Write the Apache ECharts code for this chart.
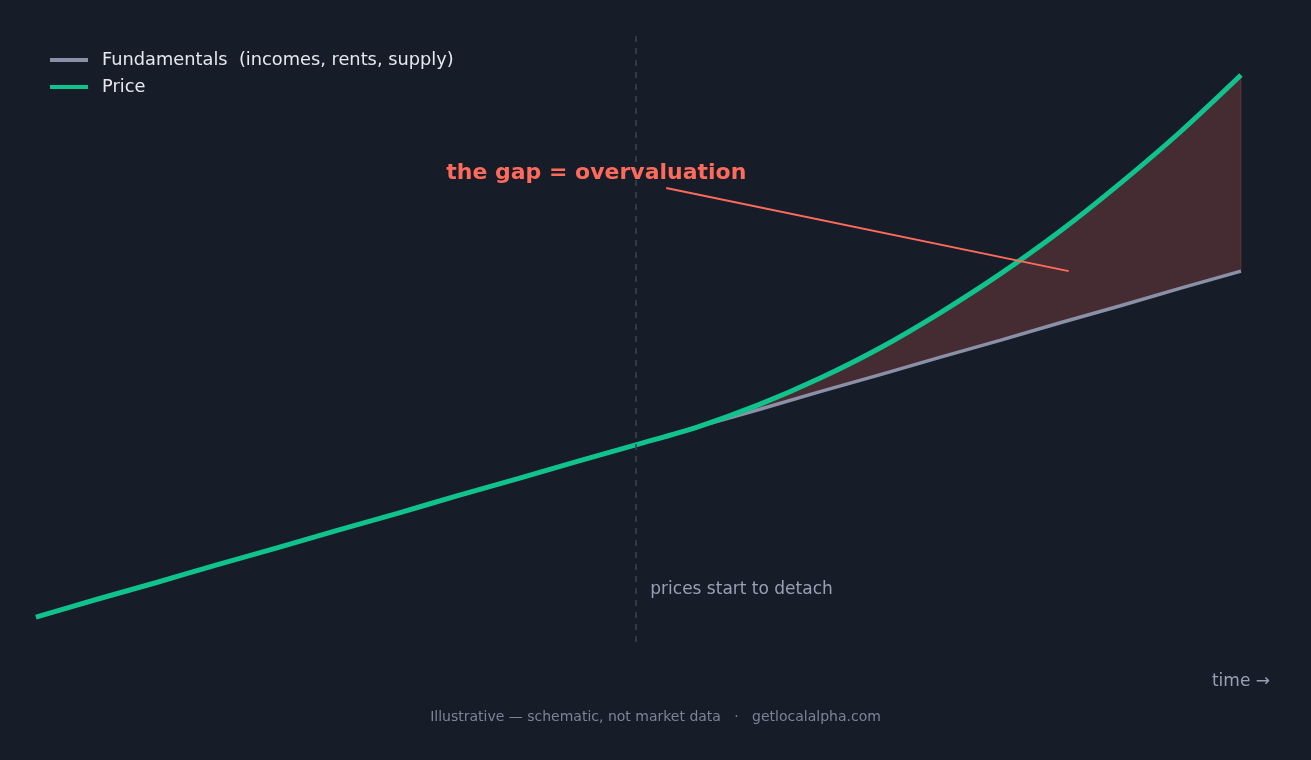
<!DOCTYPE html>
<html>
<head>
<meta charset="utf-8">
<script src="https://cdn.jsdelivr.net/npm/echarts@6/dist/echarts.min.js"></script>
<style>
  html, body { margin: 0; padding: 0; background: #171c29; }
  #chart { width: 1311px; height: 760px; }
</style>
</head>
<body>
<div id="chart"></div>
<script>
// ---- data (schematic) ----
const times = [0, 5, 10, 15, 20, 25, 30, 35, 40, 45, 50, 55, 60, 65, 70, 75, 80, 85, 90, 95, 100];
const fundamentals = [4.1, 7.0, 9.8, 12.7, 15.5, 18.4, 21.2, 24.1, 26.9, 29.8, 32.6, 35.5, 38.3, 41.2, 44.0, 46.9, 49.7, 52.6, 55.4, 58.3, 61.1];
const price = [4.1, 7.0, 9.8, 12.7, 15.5, 18.4, 21.2, 24.1, 26.9, 29.8, 32.6, 35.5, 39.1, 43.4, 48.4, 54.2, 60.6, 67.7, 75.6, 84.1, 93.4];
const detachTime = 49.8;
const gapLabelAt = [46.5, 77.2];
const gapArrowFrom = [52.3, 74.8];
const gapArrowTo = [85.7, 61.1];
const detachLabelAt = [49.9, 8.7];

const seriesNames = ['Fundamentals  (incomes, rents, supply)', 'Price'];
const gapText = 'the gap = overvaluation';
const detachText = 'prices start to detach';
const axisText = 'time →';
const footerText = 'Illustrative — schematic, not market data   ·   getlocalalpha.com';

// ---- build ----
const BG = '#171c29';
const pair = (arr) => times.map((t, i) => [t, arr[i]]);
const last = times.length - 1;
const FONT = 'DejaVu Sans';
const chart = echarts.init(document.getElementById('chart'), null, { renderer: 'canvas' });

chart.setOption({
  backgroundColor: BG,
  animation: false,
  textStyle: { fontFamily: FONT },
  grid: { left: 36, right: 70, top: 35, bottom: 118 },
  xAxis: {
    type: 'value', min: 0, max: 100,
    axisLine: { show: false }, axisTick: { show: false },
    axisLabel: { show: false }, splitLine: { show: false }
  },
  yAxis: {
    type: 'value', min: 0, max: 100,
    axisLine: { show: false }, axisTick: { show: false },
    axisLabel: { show: false }, splitLine: { show: false }
  },
  legend: {
    data: [
      { name: seriesNames[0], itemStyle: { color: '#8a90a6' } },
      { name: seriesNames[1], itemStyle: { color: '#10c28c' } }
    ],
    orient: 'vertical',
    left: 45, top: 45,
    itemWidth: 38, itemHeight: 4, itemGap: 7,
    icon: 'rect',
    textStyle: { color: '#e6e8ef', fontSize: 17.8, fontFamily: FONT, lineHeight: 20, padding: [0, 0, 0, 9] }
  },
  graphic: [
    {
      type: 'text', right: 41, top: 673,
      style: { text: axisText, fill: '#9aa0b4', font: '17px "DejaVu Sans"' }
    },
    {
      type: 'text', left: 'center', top: 710,
      style: { text: footerText, fill: '#7d8396', font: '14px "DejaVu Sans"' }
    }
  ],
  series: [
    {
      name: 'gapFill',
      type: 'line',
      data: pair(price),
      smooth: 0.3,
      showSymbol: false,
      silent: true,
      lineStyle: { width: 0, opacity: 0 },
      areaStyle: { color: 'rgba(255,107,91,0.2)', opacity: 1 },
      z: 1
    },
    {
      name: seriesNames[0],
      type: 'line',
      data: pair(fundamentals),
      showSymbol: false,
      lineStyle: { color: '#8a90a6', width: 3.5 },
      itemStyle: { color: '#8a90a6' },
      areaStyle: { color: BG, opacity: 1 },
      z: 2
    },
    {
      name: seriesNames[1],
      type: 'line',
      data: pair(price),
      smooth: 0.3,
      showSymbol: false,
      lineStyle: { color: '#10c28c', width: 5 },
      itemStyle: { color: '#10c28c' },
      z: 3,
      markLine: {
        silent: true,
        symbol: 'none',
        label: { show: false },
        data: [
          { xAxis: detachTime, lineStyle: { color: '#3a4157', width: 1.5, type: [6, 6] } },
          [
            { coord: gapArrowFrom, lineStyle: { color: '#ff6b5b', width: 2, type: 'solid' } },
            { coord: gapArrowTo }
          ],
          [
            { coord: [times[last], fundamentals[last]], lineStyle: { color: 'rgba(255,107,91,0.12)', width: 1.5, type: 'solid' } },
            { coord: [times[last], price[last]] }
          ]
        ]
      },
      markPoint: {
        silent: true,
        symbol: 'circle',
        symbolSize: 0,
        data: [
          {
            coord: gapLabelAt,
            label: { show: true, position: 'inside', formatter: gapText, color: '#ff6b5b', fontSize: 22, fontWeight: 'bold', fontFamily: FONT }
          },
          {
            coord: detachLabelAt,
            label: { show: true, position: 'right', distance: 13, formatter: detachText, color: '#9aa0b4', fontSize: 17, fontFamily: FONT }
          }
        ]
      }
    }
  ]
});
</script>
</body>
</html>
